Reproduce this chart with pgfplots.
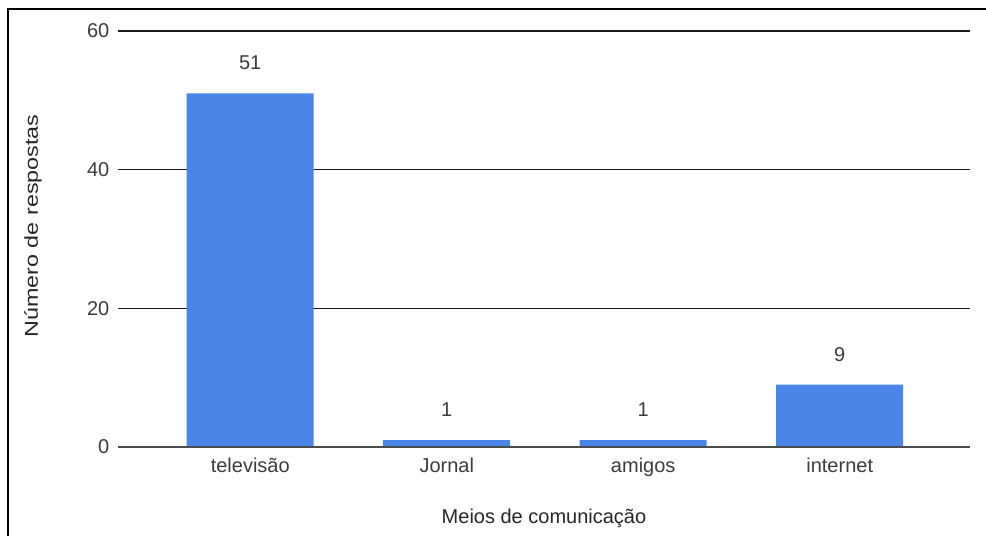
\documentclass[border=0pt]{standalone}
\usepackage{fontspec}
\setmainfont{Liberation Sans}
\usepackage{graphicx}
\usepackage{pgfplots}
\pgfplotsset{compat=1.18}
\definecolor{barblue}{RGB}{74,134,232}
\definecolor{txt}{RGB}{60,60,60}
\begin{document}
\begin{tikzpicture}
\path[use as bounding box] (0,0) rectangle (739.5pt,402pt);
% frame of the original screenshot
\draw[black, line width=1.6pt] (6pt,0) -- (6pt,395.25pt) -- (739.5pt,395.25pt);

\begin{axis}[
    at={(88.5pt,66.75pt)}, anchor=south west,
    scale only axis,
    width=639pt, height=312pt,
    xmin=-0.673, xmax=3.663,
    ymin=0, ymax=60,
    ytick={0,20,40,60},
    xtick=data,
    xticklabels={televisão,Jornal,amigos,internet},
    axis line style={draw=none},
    major tick length=0pt,
    ymajorgrids=true,
    grid style={black!90, line width=1.2pt},
    /pgf/number format/assume math mode=true,
    tick label style={font=\fontsize{15}{17}\selectfont, text=txt},
    yticklabel style={xshift=-3pt},
    xticklabel style={yshift=-5pt},
    ybar, bar width=95.25pt,
    nodes near coords,
    every node near coord/.append style={font=\fontsize{15}{17}\selectfont, text=txt, yshift=14pt},
]
\addplot[fill=barblue, draw=none] coordinates {(0,51) (1,1) (2,1) (3,9)};
\draw[black!70, line width=1.2pt] (axis cs:-0.673,0) -- (axis cs:3.663,0);
\end{axis}

\node[font=\fontsize{15}{17}\selectfont, text=black!85] at (408pt,13.5pt) {Meios de comunicação};
\node[font=\fontsize{14}{16}\selectfont, text=black!85, rotate=90] at (24.75pt,232.5pt) {\scalebox{1.25}[1]{Número de respostas}};
\end{tikzpicture}
\end{document}
